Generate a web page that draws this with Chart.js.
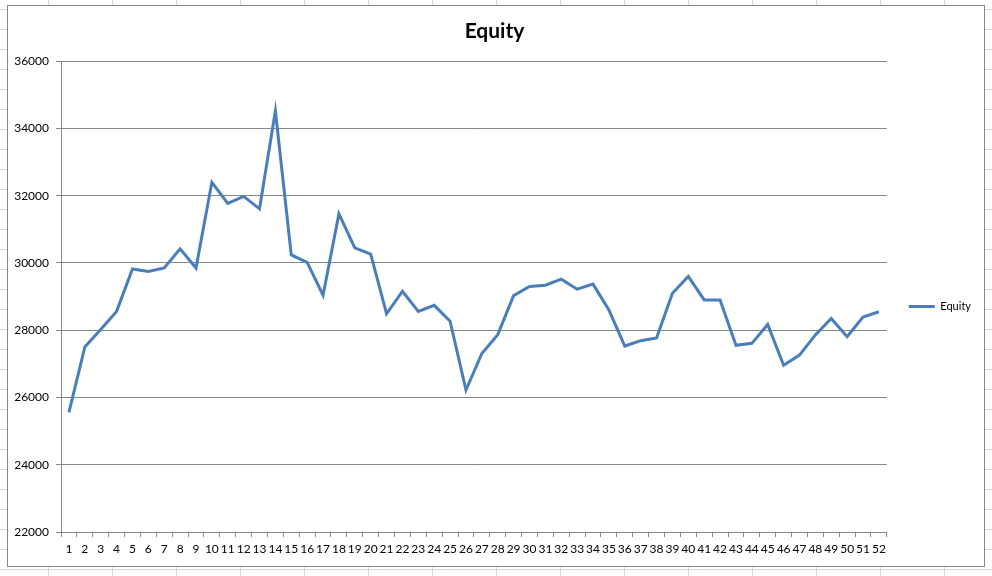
<!DOCTYPE html>
<html lang="en">
<head>
    <meta charset="UTF-8">
    <title>Equity</title>
    <script src="https://cdn.jsdelivr.net/npm/chart.js"></script>
    <style>
        html, body { margin: 0; padding: 0; }
        body {
            width: 992px;
            height: 576px;
            overflow: hidden;
            position: relative;
            /* spreadsheet cells behind the chart */
            background:
                linear-gradient(to right, #d0d7e5 1px, transparent 1px) 48px 0 / 64px 20px,
                linear-gradient(to bottom, #d0d7e5 1px, transparent 1px) 0 9px / 64px 20px,
                #fff;
        }
        .chart-box {
            position: absolute;
            left: 7px;
            top: 5px;
            width: 976px;
            height: 560px;
            border: 1px solid #868686;
            background: #fff;
        }
        canvas { display: block; }
    </style>
</head>
<body>
    <div class="chart-box">
        <canvas id="equityChart" width="976" height="560"></canvas>
    </div>

    <script>
        // Data
        const periods = [];
        for (let i = 1; i <= 52; i++) periods.push(String(i));

        const equity = [
            25560, 27500, 28020, 28560, 29820, 29750, 29850, 30420, 29850, 32400,
            31770, 31980, 31610, 34520, 30240, 30020, 29040, 31460, 30450, 30260,
            28490, 29160, 28560, 28740, 28270, 26220, 27310, 27870, 29030, 29300,
            29340, 29520, 29220, 29370, 28600, 27530, 27690, 27770, 29100, 29600,
            28900, 28900, 27550, 27610, 28170, 26960, 27260, 27860, 28350, 27810,
            28390, 28550
        ];

        const yMin = 22000;
        const yMax = 36000;
        const yStep = 2000;

        const axisGrey = '#868686';
        const lineBlue = '#4a7ebb';
        const font = 'Lato, "Open Sans", sans-serif';

        // nudge the legend down a little, Excel centres it lower
        const legendShift = {
            id: 'legendShift',
            afterLayout(chart) {
                if (chart.legend) {
                    chart.legend.top += 10;
                    chart.legend.bottom += 10;
                }
            }
        };

        const ctx = document.getElementById('equityChart').getContext('2d');
        new Chart(ctx, {
            type: 'line',
            data: {
                labels: periods,
                datasets: [{
                    label: 'Equity',
                    data: equity,
                    borderColor: lineBlue,
                    backgroundColor: lineBlue,
                    borderWidth: 3,
                    pointRadius: 0,
                    tension: 0
                }]
            },
            plugins: [legendShift],
            options: {
                responsive: false,
                animation: false,
                layout: {
                    padding: { left: 0, right: 3, top: 0, bottom: 0 }
                },
                plugins: {
                    title: {
                        display: true,
                        text: 'Equity',
                        color: '#000',
                        font: { family: font, size: 21, weight: 'bold' },
                        padding: { top: 13, bottom: 17 }
                    },
                    legend: {
                        position: 'right',
                        fullSize: false,
                        labels: {
                            color: '#000',
                            font: { family: font, size: 11 },
                            usePointStyle: true,
                            pointStyle: 'line',
                            pointStyleWidth: 26,
                            padding: 22
                        }
                    },
                    tooltip: { enabled: false }
                },
                scales: {
                    x: {
                        offset: true,
                        grid: {
                            offset: true,
                            drawOnChartArea: false,
                            color: axisGrey,
                            tickLength: 5
                        },
                        border: { color: axisGrey },
                        ticks: {
                            color: '#000',
                            font: { family: font, size: 12 },
                            autoSkip: false,
                            maxRotation: 0,
                            padding: 5
                        },
                        afterFit(scale) { scale.height = 34; }
                    },
                    y: {
                        min: yMin,
                        max: yMax,
                        grid: {
                            color: axisGrey,
                            tickLength: 5
                        },
                        border: { color: axisGrey },
                        ticks: {
                            stepSize: yStep,
                            color: '#000',
                            font: { family: font, size: 12 },
                            padding: 7,
                            callback: v => String(v)
                        },
                        afterFit(scale) { scale.width = 53; }
                    }
                }
            }
        });
    </script>
</body>
</html>
